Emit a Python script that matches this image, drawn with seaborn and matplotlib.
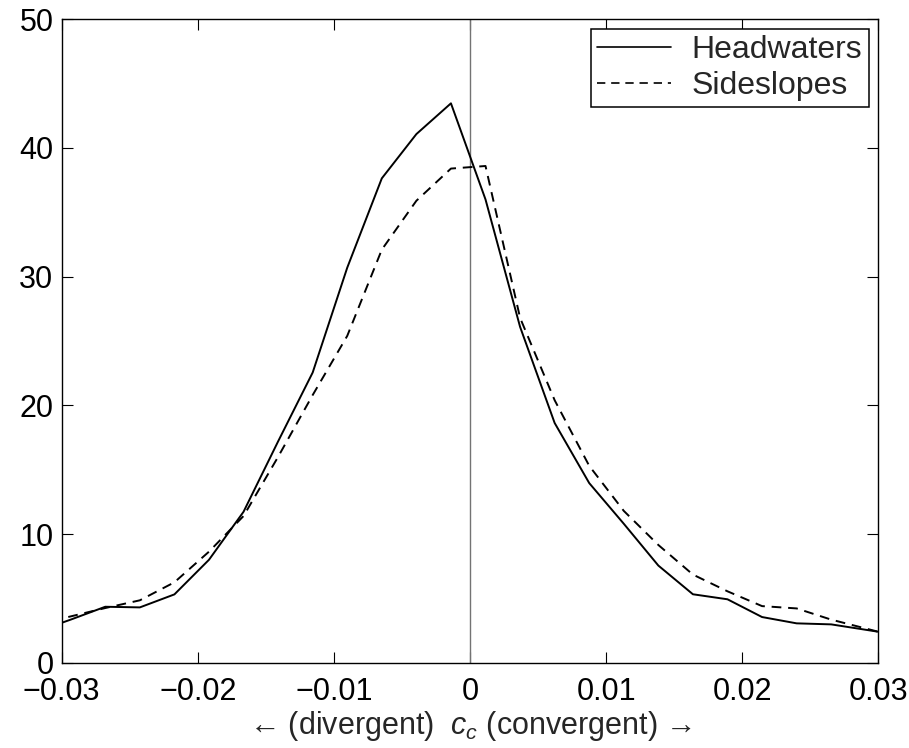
import numpy as np
import pandas as pd
import matplotlib
matplotlib.use("Agg")
import matplotlib.pyplot as plt
import seaborn as sns

# ---- data ----
cc = [-0.03188, -0.02934, -0.0268, -0.02426, -0.02172, -0.01918, -0.01664,
      -0.0141, -0.01156, -0.00902, -0.00648, -0.00394, -0.0014, 0.00114,
      0.00368, 0.00622, 0.00876, 0.0113, 0.01384, 0.01638, 0.01892,
      0.02146, 0.024, 0.02654, 0.02908, 0.03162]
headwaters = [2.4, 3.35, 4.35, 4.30, 5.31, 8.0, 11.73, 17.2, 22.55, 30.7,
              37.64, 41.08, 43.47, 36.0, 26.1, 18.63, 13.96, 10.8, 7.55,
              5.32, 4.93, 3.55, 3.06, 2.98, 2.56, 2.14]
sideslopes = [2.95, 3.6, 4.25, 4.85, 6.25, 8.63, 11.4, 16.0, 20.8, 25.4,
              32.1, 35.9, 38.4, 38.6, 26.8, 20.4, 15.3, 11.8, 9.15, 6.85,
              5.55, 4.4, 4.22, 3.35, 2.66, 1.96]
series_names = ["Headwaters", "Sideslopes"]
xticks = [-0.03, -0.02, -0.01, 0, 0.01, 0.02, 0.03]
xticklabels = ["\u22120.03", "\u22120.02", "\u22120.01", "0", "0.01", "0.02", "0.03"]
yticks = [0, 10, 20, 30, 40, 50]
xlabel = "\u2190 (divergent)  $c_c$ (convergent) \u2192"

df = pd.DataFrame({
    "cc": cc * 2,
    "value": headwaters + sideslopes,
    "series": [series_names[0]] * len(cc) + [series_names[1]] * len(cc),
})

sns.set_theme(style="ticks")
plt.rcParams["font.family"] = ["Liberation Sans", "DejaVu Sans"]
plt.rcParams["mathtext.fontset"] = "custom"
plt.rcParams["mathtext.it"] = "Liberation Sans:italic"
plt.rcParams["mathtext.rm"] = "Liberation Sans"

fig = plt.figure(figsize=(9.09, 7.48), dpi=100)
ax = fig.add_axes([0.0679, 0.1140, 0.8983, 0.8602])

ax.axvline(0, color="0.45", lw=1.0, zorder=1)

sns.lineplot(data=df, x="cc", y="value", hue="series", style="series",
             palette=["black", "black"],
             dashes={"Headwaters": "", "Sideslopes": (5, 3.5)},
             linewidth=1.4, ax=ax, legend=True, sort=False, zorder=3)

ax.set_xlim(-0.03, 0.03)
ax.set_ylim(0, 50)
ax.set_xticks(xticks)
ax.set_xticklabels(xticklabels)
ax.set_yticks(yticks)
ax.set_yticklabels([str(v) for v in yticks])

for s in ax.spines.values():
    s.set_visible(True)
    s.set_linewidth(1.0)
    s.set_color("black")

ax.tick_params(axis="both", which="both", direction="in", length=8, width=0.8,
               top=True, right=True, labelsize=22, colors="black")
ax.tick_params(axis="x", pad=10)
ax.tick_params(axis="y", pad=6)
ax.set_ylabel("")
ax.set_xlabel(xlabel, fontsize=22, labelpad=2)

handles, labels = ax.get_legend_handles_labels()
pairs = [(h, l) for h, l in zip(handles, labels) if l in series_names]
leg = ax.legend([p[0] for p in pairs], [p[1] for p in pairs],
                loc="upper right", fontsize=23, frameon=True, fancybox=False,
                framealpha=1, edgecolor="black", borderpad=0.2,
                handlelength=2.3, handletextpad=0.65, labelspacing=0.18,
                borderaxespad=0.3)
leg.get_frame().set_linewidth(1.1)
for line in leg.get_lines():
    line.set_linewidth(1.2)

fig.savefig("out.png", dpi=100)
